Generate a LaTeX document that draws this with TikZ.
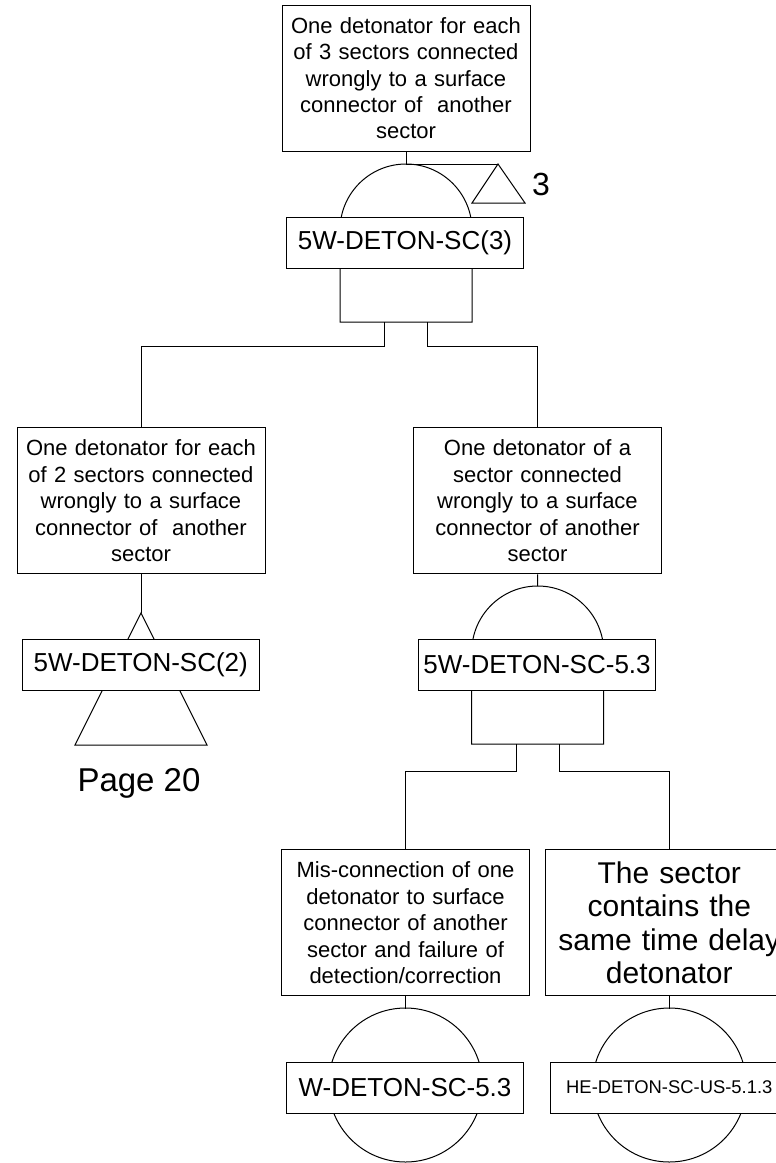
\documentclass[tikz,border=0pt]{standalone}
\usepackage{fontspec}
\setmainfont{Liberation Sans}

\begin{document}
\begin{tikzpicture}[x=0.5pt,y=-0.5pt,line width=0.5pt,
  evbox/.style={draw,align=center,text width=120pt,minimum height=73pt,inner sep=2pt,font=\fontsize{11}{13.2}\selectfont},
  idbox/.style={draw,fill=white,minimum width=118.5pt,minimum height=25.5pt,inner sep=0pt,font=\fontsize{13}{15}\selectfont}]
\useasboundingbox (0,0) rectangle (776,1163);
\clip (0,0) rectangle (776,1163);

\node[evbox] (top) at (406,78.3) {One detonator for each\\of 3 sectors connected\\wrongly to a surface\\connector of~ another\\sector};
\node[evbox] (lft) at (141,500.8) {One detonator for each\\of 2 sectors connected\\wrongly to a surface\\connector of~ another\\sector};
\node[evbox] (rgt) at (537.5,500.8) {One detonator of a\\sector connected\\wrongly to a surface\\connector of another\\sector};
\node[evbox] (mis) at (405.5,922.8) {Mis-connection of one\\detonator to surface\\connector of another\\sector and failure of\\detection/correction};
\node[evbox,font=\fontsize{15}{16.6}\selectfont] (same) at (669.3,922.8) {The sector\\contains the\\same time delay\\detonator};

\coordinate (g1) at (406,164);
\coordinate (g2) at (537.7,586);
\coordinate (t3) at (498,164);
\coordinate (t20) at (141,613);
\coordinate (c1) at (405.5,1008.5);
\coordinate (c2) at (669.3,1008.5);

\draw (340,322) -- (340,230) arc[start angle=180,end angle=0,radius=33pt] -- (472,322) -- cycle;
\draw (471.7,744) -- (471.7,652) arc[start angle=180,end angle=0,radius=33pt] -- (603.7,744) -- cycle;
\draw (t20) -- (207,745) -- (75,745) -- cycle;
\draw (t3) -- (525,203) -- (472,203) -- cycle;
\draw (405.5,1085) circle[radius=38.5pt];
\draw (669.3,1085) circle[radius=38.5pt];

\draw (top.south) -- (g1) -- (t3);
\node[font=\fontsize{16}{18}\selectfont] (n3) at (541,184) {3};

\draw (384,322) -- (384,346) -| (lft.north);
\draw (427,322) -- (427,346) -| (rgt.north);
\draw (lft.south) -- (t20);
\draw (rgt.south) -- (g2);
\draw (516,744) -- (516,771) -| (mis.north);
\draw (559,744) -- (559,771) -| (same.north);
\draw (mis.south) -- (c1);
\draw (same.south) -- (c2);

\node[idbox] (topid) at (405,242.5) {5W-DETON-SC(3)};
\node[idbox] (lftid) at (140.7,665) {5W-DETON-SC(2)};
\node[idbox] (rgtid) at (537,665) {5W-DETON-SC-5.3};
\node[idbox] (misid) at (405,1087.8) {W-DETON-SC-5.3};
\node[idbox,font=\fontsize{9.2}{11}\selectfont] (sameid) at (669.3,1087.5) {HE-DETON-SC-US-5.1.3};

\node[font=\fontsize{16.5}{19}\selectfont] (pg) at (139,783) {Page 20};
\end{tikzpicture}
\end{document}
